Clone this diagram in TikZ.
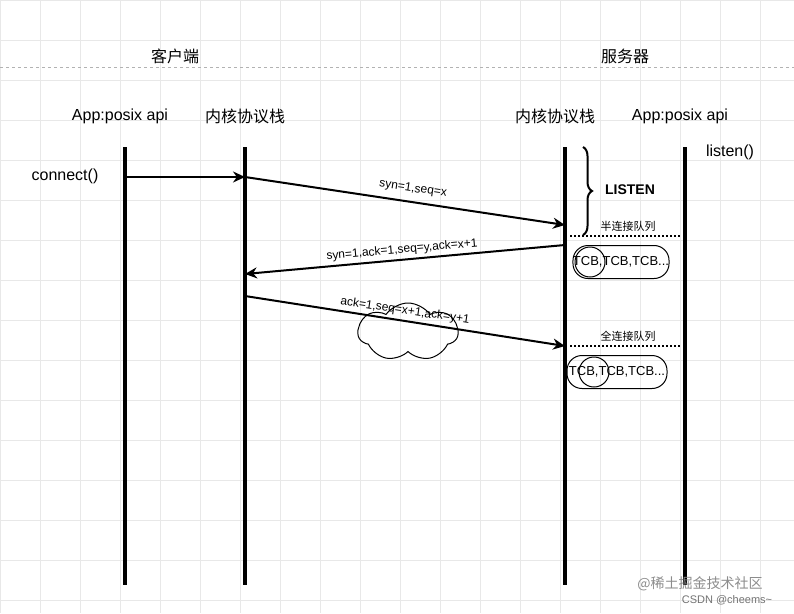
\documentclass[tikz,border=0pt]{standalone}
\usepackage{fontspec}
\setmainfont{Liberation Sans}
\newfontfamily\cjk{Noto Sans CJK SC}
\usetikzlibrary{arrows.meta,decorations.pathreplacing,shapes.symbols}
\begin{document}
\begin{tikzpicture}[x=1pt,y=-1pt,
  life/.style={line width=3.5pt},
  msg/.style={line width=2pt,-{Stealth[length=12pt,width=11pt]}},
  lbl/.style={font=\fontsize{12}{12}\selectfont},
  hdr/.style={font=\cjk\fontsize{16}{16}\selectfont},
  txt/.style={font=\fontsize{16}{16}\selectfont},
  qlab/.style={font=\cjk\fontsize{11}{11}\selectfont},
  dotl/.style={line width=2pt,dotted},
  queue/.style={draw,line width=1pt,rounded corners=15pt,minimum height=33pt,inner sep=0pt,font=\fontsize{13}{13}\selectfont}]
\useasboundingbox (0,0) rectangle (794,613);
\fill[white] (0,0) rectangle (794,613);
\draw[black!9,step=40pt] (0,0) grid (794,613);
\draw[black!30,dashed] (0,67) -- (794,67);
\node[hdr] (c) at (175,56) {客户端};
\node[hdr] (s) at (625,56) {服务器};
\node[txt] (h1) at (120,116) {App:posix api};
\node[hdr] (h2) at (245,116) {内核协议栈};
\node[hdr] (h3) at (555,116) {内核协议栈};
\node[txt] (h4) at (680,116) {App:posix api};
\coordinate (a1) at (125,147); \coordinate (a2) at (125,585);
\coordinate (b1) at (245,147); \coordinate (b2) at (245,585);
\coordinate (c1) at (565,147); \coordinate (c2) at (565,585);
\coordinate (d1) at (685,147); \coordinate (d2) at (685,585);
\draw[life] (a1)--(a2); \draw[life] (b1)--(b2); \draw[life] (c1)--(c2); \draw[life] (d1)--(d2);
\node[txt] (conn) at (65,176) {connect()};
\node[txt] (lis) at (730,152) {listen()};
\node[cloud,draw,line width=1pt,cloud puffs=7,cloud puff arc=110,aspect=1.6,minimum width=100pt,minimum height=58pt] (cl) at (408,332) {};
\coordinate (m0s) at (125,177); \coordinate (m0e) at (245,177);
\coordinate (m1s) at (245,177); \coordinate (m1e) at (565,225);
\coordinate (m2s) at (565,245); \coordinate (m2e) at (245,274);
\coordinate (m3s) at (245,296); \coordinate (m3e) at (565,346);
\draw[msg] (m0s)--(m0e);
\draw[msg] (m1s)--(m1e);
\draw[msg] (m2s)--(m2e);
\draw[msg] (m3s)--(m3e);
\node[lbl,rotate=-8.5] (l1) at (413,189) {syn=1,seq=x};
\node[lbl,rotate=5] (l2) at (402,250) {syn=1,ack=1,seq=y,ack=x+1};
\node[lbl,rotate=-8.5] (l3) at (405,311) {ack=1,seq=x+1,ack=y+1};
\draw[line width=2pt,decorate,decoration={brace,amplitude=9pt}] (583,147) -- (583,235);
\node[font=\bfseries\fontsize{14}{14}\selectfont] (L) at (630,190) {LISTEN};
\node[qlab] (q1) at (628,226) {半连接队列};
\draw[dotl] (570,236) -- (680,236);
\draw[line width=1pt] (590,262) circle (15pt);
\node[queue,minimum width=93pt] (t1) at (621,262) {TCB,TCB,TCB...};
\node[qlab] (q2) at (628,336) {全连接队列};
\draw[dotl] (570,346) -- (680,346);
\draw[line width=1pt] (594,372) circle (15pt);
\node[queue,minimum width=100pt] (t2) at (617,372) {TCB,TCB,TCB...};
\node[font=\cjk\fontsize{14}{14}\selectfont,text=black!45] (w1) at (700,584) {@稀土掘金技术社区};
\node[font=\fontsize{11}{11}\selectfont,text=black!55] (w2) at (727,600) {CSDN @cheems\textasciitilde};
\end{tikzpicture}
\end{document}
